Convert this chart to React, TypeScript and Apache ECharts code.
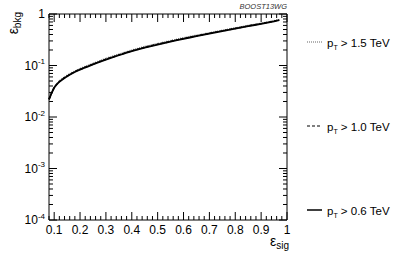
import React, { useEffect, useRef } from 'react';
import * as echarts from 'echarts';

const effSig = [0.08, 0.09, 0.10, 0.11, 0.12, 0.14, 0.16, 0.18, 0.20, 0.25, 0.30, 0.35, 0.40, 0.45, 0.50, 0.55, 0.60, 0.65, 0.70, 0.75, 0.80, 0.85, 0.90, 0.95, 0.97];
const bkg06 = [0.022, 0.029, 0.037, 0.043, 0.048, 0.057, 0.066, 0.075, 0.083, 0.105, 0.130, 0.158, 0.190, 0.222, 0.255, 0.290, 0.330, 0.370, 0.415, 0.465, 0.520, 0.580, 0.645, 0.720, 0.760];
const bkg10 = [0.022, 0.029, 0.037, 0.043, 0.049, 0.058, 0.067, 0.076, 0.084, 0.106, 0.132, 0.160, 0.192, 0.225, 0.258, 0.294, 0.334, 0.375, 0.420, 0.470, 0.525, 0.585, 0.650, 0.725, 0.765];
const bkg15 = [0.022, 0.029, 0.037, 0.044, 0.050, 0.060, 0.069, 0.078, 0.087, 0.110, 0.137, 0.166, 0.199, 0.233, 0.267, 0.304, 0.345, 0.387, 0.432, 0.482, 0.537, 0.597, 0.662, 0.738, 0.775];
const legendCuts = ['1.5', '1.0', '0.6'];
const xTickLabels = [0.1, 0.2, 0.3, 0.4, 0.5, 0.6, 0.7, 0.8, 0.9, 1];
const yTickLabels = [1e-4, 1e-3, 1e-2, 1e-1, 1];

const X_MIN = 0.08, X_MAX = 1, Y_MIN = 1e-4, Y_MAX = 1;
const FONT = '"Liberation Sans", Arial, Helvetica, sans-serif';

export default function App() {
  const ref = useRef<HTMLDivElement>(null);
  useEffect(() => {
    if (!ref.current) return;
    const chart = echarts.init(ref.current, undefined, { renderer: 'svg' });
    const pair = (ys: number[]) => effSig.map((x, i) => [x, ys[i]]);
    const legendY = [42, 126, 210];
    const legendDash: any[] = [[1, 1], [3, 2], null];
    const legendColor = ['#666', '#000', '#000'];
    const graphic: any[] = [];
    legendCuts.forEach((c, i) => {
      graphic.push({
        type: 'line', shape: { x1: 307, y1: legendY[i], x2: 322, y2: legendY[i] },
        style: { stroke: legendColor[i], lineWidth: i === 2 ? 1.5 : 1.2, lineDash: legendDash[i] }
      });
      graphic.push({
        type: 'text', x: 327, y: legendY[i] + 1,
        style: {
          text: `{p|p}{t|T}{p| > ${c} TeV}`, fill: '#000', align: 'left', verticalAlign: 'middle',
          rich: {
            p: { fontFamily: FONT, fontSize: 11.5, fill: '#000' },
            t: { fontFamily: FONT, fontSize: 7, fill: '#000', padding: [8, 0, 0, 0] }
          }
        }
      });
    });
    graphic.push({
      type: 'text', x: 287, y: 6,
      style: { text: 'BOOST13WG', fill: '#333', font: `italic 7.5px ${FONT}`, align: 'right', verticalAlign: 'middle' }
    });
    graphic.push({
      type: 'text', x: 289, y: 241,
      style: {
        text: '{e|ε}{s|sig}', fill: '#000', align: 'right', verticalAlign: 'middle',
        rich: {
          e: { fontFamily: FONT, fontSize: 14, fill: '#000' },
          s: { fontFamily: FONT, fontSize: 10, fill: '#000', padding: [8, 0, 0, 0] }
        }
      }
    });
    graphic.push({
      type: 'text', x: 13, y: 12, rotation: Math.PI / 2,
      style: {
        text: '{e|ε}{s|bkg}', fill: '#000', align: 'right', verticalAlign: 'middle',
        rich: {
          e: { fontFamily: FONT, fontSize: 14, fill: '#000' },
          s: { fontFamily: FONT, fontSize: 10, fill: '#000', padding: [8, 0, 0, 0] }
        }
      }
    });

    const option: any = {
      animation: false,
      grid: { left: 49, right: 112, top: 14, bottom: 34, show: true, borderColor: '#000', borderWidth: 1, backgroundColor: 'transparent' },
      xAxis: {
        type: 'value', min: X_MIN, max: X_MAX,
        axisLine: { show: false }, axisTick: { show: false }, splitLine: { show: false },
        axisLabel: {
          customValues: xTickLabels, margin: 4, color: '#000', fontFamily: FONT, fontSize: 12,
          formatter: (v: number) => (Math.abs(v - 1) < 1e-9 ? '1' : v.toFixed(1))
        }
      },
      yAxis: {
        type: 'log', logBase: 10, min: Y_MIN, max: Y_MAX,
        axisLine: { show: false }, axisTick: { show: false }, splitLine: { show: false },
        axisLabel: {
          customValues: yTickLabels, margin: 4, color: '#000',
          formatter: (v: number) => {
            const e = Math.round(Math.log10(v));
            return e === 0 ? '{b|1}' : `{b|10}{s|${e}}`;
          },
          rich: {
            b: { fontFamily: FONT, fontSize: 12, color: '#000' },
            s: { fontFamily: FONT, fontSize: 8, color: '#000', padding: [0, 0, 8, 0] }
          }
        }
      },
      graphic,
      series: [
        {
          type: 'line', name: 'pT > 0.6 TeV', data: pair(bkg06), showSymbol: false, smooth: 0.2,
          lineStyle: { color: '#000', width: 1.8, type: 'solid' }, z: 3
        },
        {
          type: 'line', name: 'pT > 1.0 TeV', data: pair(bkg10), showSymbol: false, smooth: 0.2,
          lineStyle: { color: '#000', width: 1.5, type: [3, 2] }, z: 4
        },
        {
          type: 'line', name: 'pT > 1.5 TeV', data: pair(bkg15), showSymbol: false, smooth: 0.2,
          lineStyle: { color: '#777', width: 1.5, type: [1, 1] }, z: 2
        },
        {
          type: 'custom', data: [[0.5, 0.01]], clip: false, silent: true, z: 10,
          renderItem: (_p: any, api: any) => {
            const children: any[] = [];
            const bl = api.coord([X_MIN, Y_MIN]);
            const tr = api.coord([X_MAX, Y_MAX]);
            const left = bl[0], bottom = bl[1], right = tr[0], top = tr[1];
            const ln = (x1: number, y1: number, x2: number, y2: number) =>
              children.push({ type: 'line', shape: { x1, y1, x2, y2 }, style: { stroke: '#000', lineWidth: 1 } });
            for (let i = 0; i <= 46; i++) {
              const v = X_MIN + i * 0.02;
              const px = api.coord([v, Y_MIN])[0];
              const major = Math.abs(v * 10 - Math.round(v * 10)) < 1e-6;
              const len = major ? 8 : 4;
              ln(px, bottom, px, bottom - len);
              ln(px, top, px, top + len);
            }
            for (let k = -4; k <= 0; k++) {
              for (let m = 1; m <= 9; m++) {
                const v = m * Math.pow(10, k);
                if (v > Y_MAX * 1.0001) continue;
                const py = api.coord([X_MIN, v])[1];
                const len = m === 1 ? 8 : 4;
                ln(left, py, left + len, py);
                ln(right, py, right - len, py);
              }
            }
            return { type: 'group', children };
          }
        }
      ]
    };
    chart.setOption(option);
    return () => chart.dispose();
  }, []);
  return <div ref={ref} style={{ width: 399, height: 254, position: 'absolute', left: 0, top: 0, background: '#fff' }} />;
}
